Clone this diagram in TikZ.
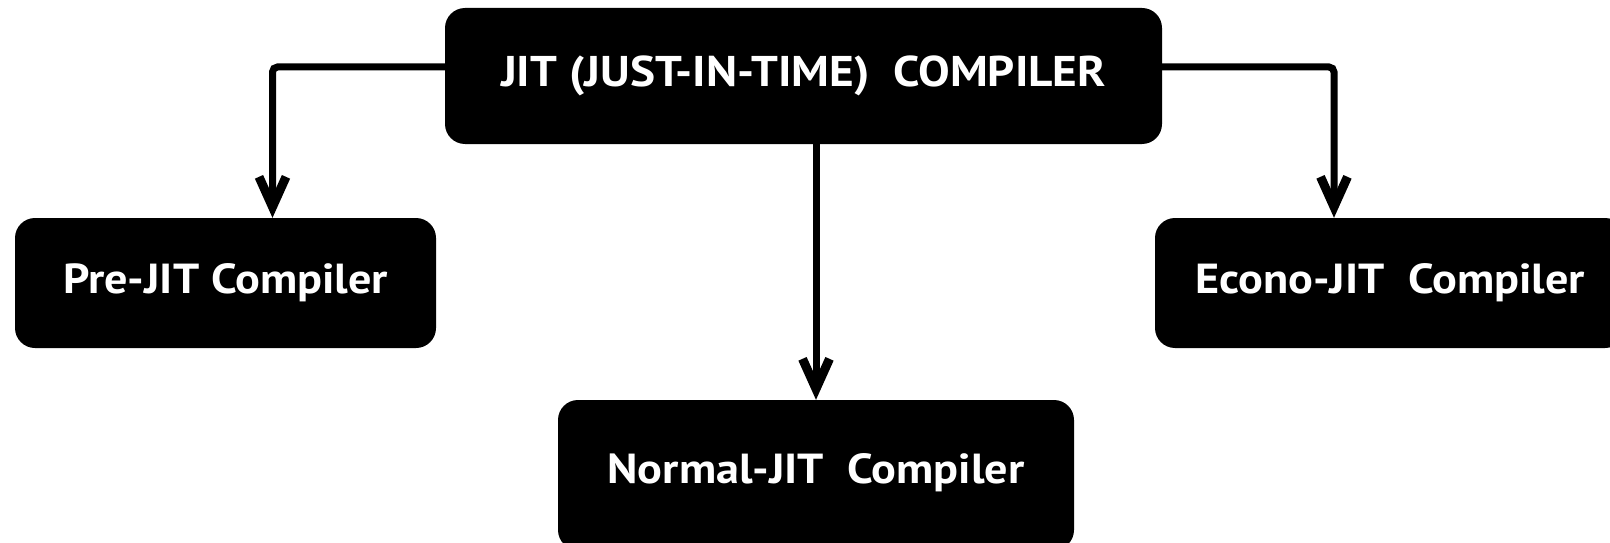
\documentclass[tikz,border=0pt]{standalone}
\usepackage{fontspec}
\setmainfont[FakeStretch=1.1]{PT Sans}
\usetikzlibrary{arrows.meta,calc}
\begin{document}
\begin{tikzpicture}[x=1pt,y=-1pt,
  box/.style={rectangle,rounded corners=20pt,fill=black,text=white,inner sep=0pt,
    font=\fontsize{42}{46}\selectfont\bfseries},
  arr/.style={line width=7pt,rounded corners=5pt,-{Straight Barb[length=30pt,width=27pt,line width=9pt]}}]
\useasboundingbox (0,0) rectangle (1610,543);
\clip (0,0) rectangle (1610,543);
\fill[white] (0,0) rectangle (1610,543);
\node[box,minimum width=717pt,minimum height=136pt,font=\fontsize{43}{47}\selectfont\bfseries] (top) at (803.5,76) {JIT (JUST-IN-TIME) \ COMPILER};
\node[box,minimum width=421pt,minimum height=130pt] (pre) at (225.5,283) {Pre-JIT Compiler};
\node[box,minimum width=470pt,minimum height=130pt] (econo) at (1390,283) {Econo-JIT \ Compiler};
\node[box,minimum width=516pt,minimum height=150pt,text depth=12pt] (normal) at (816,475) {Normal-JIT \ Compiler};
\draw[arr] ($(top.west)+(0,-9)$) -| ($(pre.north)+(47,0)$);
\draw[arr] ($(top.east)+(0,-9)$) -| ($(econo.north)+(-56,0)$);
\draw[arr] (normal.north |- top.south) -- (normal.north);
\end{tikzpicture}
\end{document}
